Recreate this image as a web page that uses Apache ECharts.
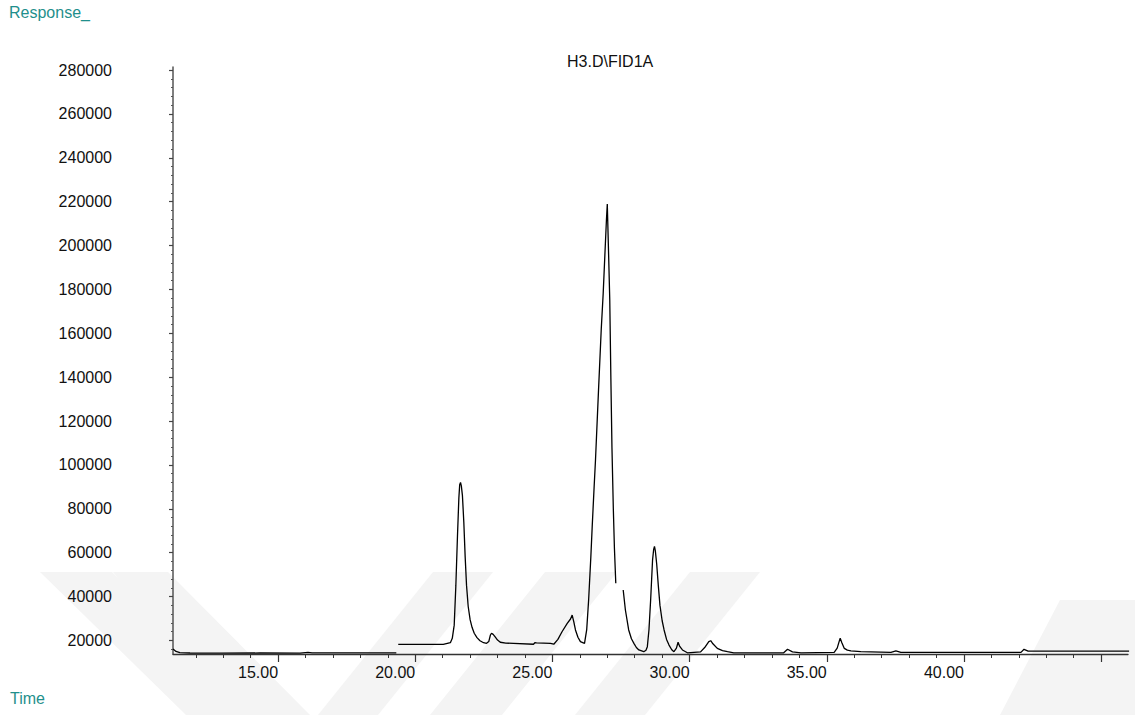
<!DOCTYPE html>
<html>
<head>
<meta charset="utf-8">
<script src="https://cdn.jsdelivr.net/npm/echarts@6/dist/echarts.min.js"></script>
<style>
  html, body { margin: 0; padding: 0; background: #ffffff; }
  #chart { width: 1135px; height: 715px; }
</style>
</head>
<body>
<div id="chart"></div>
<script>
// ---- data (time in minutes, detector response) ----
var chartTitle = 'H3.D\\FID1A';
var yAxisTitle = 'Response_';
var xAxisTitle = 'Time';

var times = [
  11.17, 11.28, 11.42, 11.79, 12.88, 14.34, 15.80, 16.09, 16.24, 17.63, 19.31,
  19.35,
  19.38, 20.18, 21.02, 21.28, 21.35, 21.42, 21.48, 21.54, 21.59, 21.62, 21.65,
  21.68, 21.72, 21.77, 21.82, 21.87, 21.93, 22.00, 22.07, 22.15, 22.25, 22.36,
  22.49, 22.60, 22.68, 22.74, 22.78, 22.84, 22.92, 23.00, 23.10, 23.30, 23.58,
  24.31, 24.36, 24.42, 24.93, 25.05, 25.20, 25.35, 25.54, 25.66, 25.72, 25.78,
  25.84, 25.93, 26.02, 26.17, 26.25, 26.32, 26.40, 26.45, 26.52, 26.57, 26.68,
  26.78, 26.85, 26.92, 26.97, 27.00, 27.05, 27.09, 27.13, 27.17, 27.22, 27.26,
  27.31,
  27.45,
  27.58, 27.66, 27.78, 27.88, 27.97, 28.06, 28.15, 28.33, 28.41, 28.46, 28.52,
  28.58, 28.65, 28.69, 28.72, 28.75, 28.80, 28.86, 28.92, 29.00, 29.07, 29.16,
  29.25, 29.35, 29.43, 29.52, 29.58, 29.64, 29.74, 29.92, 30.40, 30.55, 30.70,
  30.77, 30.85, 31.01, 31.20, 31.38, 31.61, 33.43, 33.57, 33.75, 34.06, 35.27,
  35.38, 35.45, 35.49, 35.55, 35.64, 35.75, 35.88, 36.24, 37.34, 37.52, 37.70,
  39.16, 42.08, 42.19, 42.34, 46.02
];
var response = [
  16100, 15000, 14440, 14300, 14250, 14300, 14250, 14600, 14350, 14350, 14400,
  null,
  18200, 18200, 18200, 19000, 21000, 27000, 45000, 68000, 85000, 91000, 92000,
  90500, 86000, 74000, 58000, 45000, 35500, 29500, 26000, 23300, 21300, 19900,
  19000, 18700, 19500, 22500, 23300, 22800, 21500, 20200, 19200, 18800, 18700,
  18300, 19000, 18900, 18700, 18300, 20500, 24000, 27800, 29800, 31600, 28500,
  24800, 21500, 19500, 18700, 25000, 38500, 58000, 71900, 90000, 102300, 134000,
  162000, 178000, 198000, 212000, 218900, 195000, 175300, 140000, 108000, 80000, 62000,
  46100,
  null,
  43000, 33900, 24800, 20800, 18700, 16800, 15700, 14900, 15600, 17200, 25000,
  38500, 56700, 61500, 62900, 61000, 55000, 45000, 36000, 29000, 24800, 20500,
  17900, 15800, 14900, 16500, 19200, 17300, 15700, 14400, 14800, 16800, 19500,
  19900, 18500, 16400, 15400, 14900, 14400, 14400, 16000, 14800, 14400, 14600,
  16500, 19500, 21000, 19000, 16400, 15600, 15300, 14900, 14600, 15300, 14600,
  14600, 14600, 16000, 15200, 15200
];

var xMajorTicks = [15, 20, 25, 30, 35, 40, 45];
var xLabelValues = [15, 20, 25, 30, 35, 40];
var xMinorTicks = [12, 13, 14, 16, 17, 18, 19, 21, 22, 23, 24, 26, 27, 28, 29,
                   31, 32, 33, 34, 36, 37, 38, 39, 41, 42, 43, 44];
var yMajorTicks = [20000, 40000, 60000, 80000, 100000, 120000, 140000, 160000,
                   180000, 200000, 220000, 240000, 260000, 280000];
var yMinorTicks = [16000, 24000, 28000, 32000, 36000, 44000, 48000, 52000, 56000,
                   64000, 68000, 72000, 76000, 84000, 88000, 92000, 96000,
                   104000, 108000, 112000, 116000, 124000, 128000, 132000, 136000,
                   144000, 148000, 152000, 156000, 164000, 168000, 172000, 176000,
                   184000, 188000, 192000, 196000, 204000, 208000, 212000, 216000,
                   224000, 228000, 232000, 236000, 244000, 248000, 252000, 256000,
                   264000, 268000, 272000, 276000];

// ---- build chart ----
var seriesData = times.map(function (t, i) { return [t, response[i]]; });

var FONT = '"Liberation Sans", Arial, Helvetica, sans-serif';
var TEAL = '#1f8f8c';
var xMin = 11.17, xMax = 45.98, yMin = 13850, yMax = 281370;

var chart = echarts.init(document.getElementById('chart'), null, { renderer: 'svg' });

var watermarkColor = '#f4f4f4';
function band(points) {
  return { type: 'polygon', silent: true, z: -10,
           shape: { points: points }, style: { fill: watermarkColor } };
}

chart.setOption({
  animation: false,
  backgroundColor: '#ffffff',
  textStyle: { fontFamily: FONT },
  title: [
    { text: chartTitle, left: 567, top: 53, padding: 0,
      textStyle: { fontFamily: FONT, fontSize: 16, fontWeight: 'normal', color: '#111' } },
    { text: yAxisTitle, left: 9, top: 4, padding: 0,
      textStyle: { fontFamily: FONT, fontSize: 16, fontWeight: 'normal', color: TEAL } },
    { text: xAxisTitle, left: 10, top: 690, padding: 0,
      textStyle: { fontFamily: FONT, fontSize: 16, fontWeight: 'normal', color: TEAL } }
  ],
  graphic: [
    band([[40, 572], [112, 572], [258, 715], [186, 715]]),
    band([[113, 572], [168, 572], [310, 715], [225, 715]]),
    band([[433, 572], [493, 572], [378, 715], [318, 715]]),
    band([[545, 572], [617, 572], [502, 715], [430, 715]]),
    band([[690, 572], [760, 572], [645, 715], [575, 715]]),
    band([[1060, 600], [1135, 600], [1135, 715], [1000, 715]])
  ],
  grid: { left: 173, right: 7, top: 67, bottom: 61, outerBoundsMode: 'none', containLabel: false },
  xAxis: [
    {
      type: 'value', min: xMin, max: xMax, position: 'bottom',
      axisLine: { show: true, onZero: false, lineStyle: { color: '#333', width: 1.3 } },
      axisTick: { show: true, inside: false, length: 8, customValues: xMajorTicks,
                  lineStyle: { color: '#333', width: 1.2 } },
      axisLabel: { show: true, customValues: xLabelValues, align: 'right', margin: 10,
                   fontFamily: FONT, fontSize: 16, color: '#111',
                   formatter: function (v) { return v.toFixed(2); } },
      splitLine: { show: false }
    },
    {
      type: 'value', min: xMin, max: xMax, position: 'bottom', gridIndex: 0,
      axisLine: { show: false },
      axisTick: { show: true, inside: false, length: 4, customValues: xMinorTicks,
                  lineStyle: { color: '#333', width: 1 } },
      axisLabel: { show: false },
      splitLine: { show: false }
    }
  ],
  yAxis: [
    {
      type: 'value', min: yMin, max: yMax, position: 'left',
      axisLine: { show: true, onZero: false, lineStyle: { color: '#555', width: 1.5 } },
      axisTick: { show: true, inside: false, length: 4, customValues: yMajorTicks,
                  lineStyle: { color: '#444', width: 1.2 } },
      axisLabel: { show: true, customValues: yMajorTicks, margin: 61,
                   fontFamily: FONT, fontSize: 16, color: '#111',
                   formatter: function (v) { return String(v); } },
      splitLine: { show: false }
    },
    {
      type: 'value', min: yMin, max: yMax, position: 'left', gridIndex: 0,
      axisLine: { show: false },
      axisTick: { show: true, inside: false, length: 2, customValues: yMinorTicks,
                  lineStyle: { color: '#555', width: 1 } },
      axisLabel: { show: false },
      splitLine: { show: false }
    }
  ],
  series: [
    {
      type: 'line', xAxisIndex: 0, yAxisIndex: 0,
      data: seriesData, showSymbol: false, symbol: 'none',
      connectNulls: false, smooth: false,
      lineStyle: { color: '#000', width: 1.3 },
      emphasis: { disabled: true }
    }
  ]
});
</script>
</body>
</html>
